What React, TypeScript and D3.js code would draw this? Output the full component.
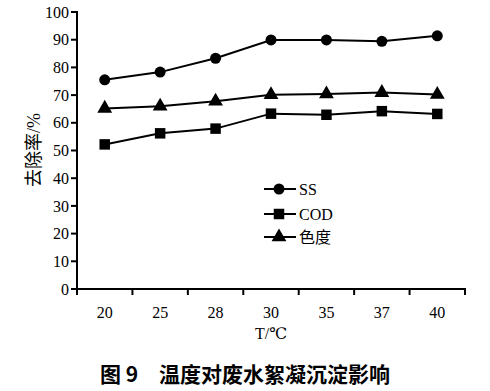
import React from "react";
import * as d3 from "d3";

const temps = ["20", "25", "28", "30", "35", "37", "40"];
const ssValues = [75.5, 78.3, 83.3, 89.9, 89.9, 89.4, 91.4];
const codValues = [52.2, 56.2, 57.9, 63.3, 62.9, 64.2, 63.2];
const colorValues = [65.2, 66.0, 67.8, 70.1, 70.4, 70.9, 70.2];
const yTicks = [0, 10, 20, 30, 40, 50, 60, 70, 80, 90, 100];

const seriesList = [
  { name: "SS", values: ssValues, shape: d3.symbolCircle, size: 95 },
  { name: "COD", values: codValues, shape: d3.symbolSquare, size: 110 },
  { name: "色度", values: colorValues, shape: d3.symbolTriangle, size: 95 },
];

const serif = "Liberation Serif, DejaVu Serif, Noto Sans CJK SC, serif";

export default function App() {
  const left = 77;
  const right = 465;
  const top = 12;
  const bottom = 289;

  const x = d3.scaleBand().domain(temps).range([left, right]);
  const y = d3.scaleLinear().domain([0, 100]).range([bottom, top]);
  const line = d3
    .line<number>()
    .x((_, i) => x(temps[i])! + x.bandwidth() / 2)
    .y((d) => y(d));
  const boundaries = temps.map((t) => x(t)!).concat([right]);

  return (
    <svg width={490} height={391} style={{ position: "absolute", left: 0, top: 0, background: "#fff" }}>
      {/* y axis */}
      <line x1={left} x2={left} y1={top - 1} y2={bottom + 1} stroke="#000" strokeWidth={2} />
      {yTicks.map((t) => (
        <g key={t}>
          <line x1={left - 6} x2={left} y1={y(t)} y2={y(t)} stroke="#000" strokeWidth={2} />
          <text x={left - 8} y={y(t)} dy="0.35em" textAnchor="end" style={{ fontFamily: serif }} fontSize={16}>
            {t}
          </text>
        </g>
      ))}
      {/* x axis */}
      <line x1={left - 1} x2={right + 1} y1={bottom} y2={bottom} stroke="#000" strokeWidth={2} />
      {boundaries.map((b, i) => (
        <line key={i} x1={b} x2={b} y1={bottom} y2={bottom + 6} stroke="#000" strokeWidth={2} />
      ))}
      {temps.map((t) => (
        <text key={t} x={x(t)! + x.bandwidth() / 2} y={312} dy="0.35em" textAnchor="middle" style={{ fontFamily: serif }} fontSize={16}>
          {t}
        </text>
      ))}
      <text x={271} y={333} dy="0.35em" textAnchor="middle" style={{ fontFamily: serif }} fontSize={16}>
        T/℃
      </text>
      <text
        transform={`translate(34,150) rotate(-90)`}
        textAnchor="middle"
        dy="0.35em"
        style={{ fontFamily: serif }}
        fontSize={18}
      >
        去除率/%
      </text>

      {/* series */}
      {seriesList.map((s) => (
        <g key={s.name}>
          <path d={line(s.values)!} fill="none" stroke="#000" strokeWidth={2} />
          {s.values.map((v, i) => (
            <path
              key={i}
              transform={`translate(${x(temps[i])! + x.bandwidth() / 2},${y(v)})`}
              d={d3.symbol().type(s.shape).size(s.size)()!}
              fill="#000"
            />
          ))}
        </g>
      ))}

      {/* legend */}
      {seriesList.map((s, i) => {
        const ly = [189, 214, 237][i];
        return (
          <g key={s.name}>
            <line x1={264} x2={296} y1={ly} y2={ly} stroke="#000" strokeWidth={2} />
            <path transform={`translate(279,${ly})`} d={d3.symbol().type(s.shape).size(s.size)()!} fill="#000" />
            <text x={299} y={ly} dy="0.35em" style={{ fontFamily: serif }} fontSize={16}>
              {s.name}
            </text>
          </g>
        );
      })}

      <text x={245} y={375} dy="0.35em" textAnchor="middle" style={{ fontFamily: "Noto Sans CJK SC, sans-serif" }} fontWeight="bold" fontSize={21}>
        图 9　温度对废水絮凝沉淀影响
      </text>
    </svg>
  );
}
